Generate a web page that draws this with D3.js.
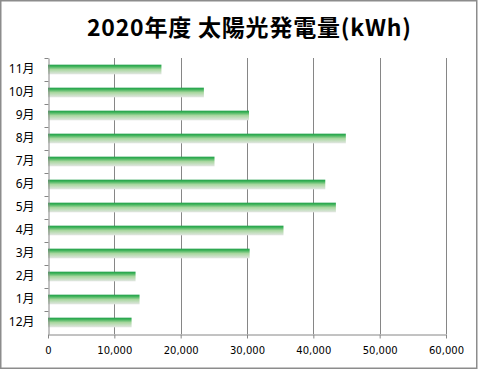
<!DOCTYPE html>
<html>
<head>
<meta charset="utf-8">
<script src="https://cdn.jsdelivr.net/npm/d3@7"></script>
<style>
  body { margin: 0; background: #fff; }
  svg { display: block; }
</style>
</head>
<body>
<svg id="chart"></svg>
<script>
// 月別の発電量 (上から 11月 ... 12月)
const months = ["11月", "10月", "9月", "8月", "7月", "6月", "5月", "4月", "3月", "2月", "1月", "12月"];
const kwh = [17100, 23500, 30300, 44900, 25100, 41800, 43400, 35500, 30400, 13200, 13800, 12600];
const xTicks = [0, 10000, 20000, 30000, 40000, 50000, 60000];
const title = "2020年度 太陽光発電量(kWh)";

const data = months.map((m, i) => ({month: m, value: kwh[i]}));

const W = 480, H = 371;
const margin = {top: 58, right: 34, bottom: 37, left: 48};

const svg = d3.select("#chart")
    .attr("width", W)
    .attr("height", H);

// outer frame
svg.append("rect")
    .attr("x", 0.75)
    .attr("y", 0.75)
    .attr("width", 476)
    .attr("height", 367.5)
    .attr("fill", "#fff")
    .attr("stroke", "#8c8c8c")
    .attr("stroke-width", 1.5);

const x = d3.scaleLinear()
    .domain([0, 60000])
    .range([margin.left, W - margin.right]);

const y = d3.scaleBand()
    .domain(months)
    .range([margin.top, H - margin.bottom])
    .paddingInner(0.58)
    .paddingOuter(0.29);

// gradient for bars
const grad = svg.append("defs").append("linearGradient")
    .attr("id", "barGrad")
    .attr("x1", 0).attr("y1", 0)
    .attr("x2", 0).attr("y2", 1);
[["0%", "#1e9e48"], ["18%", "#3fb35a"], ["50%", "#a8d79f"], ["100%", "#e3e6e3"]]
    .forEach(s => grad.append("stop").attr("offset", s[0]).attr("stop-color", s[1]));

// vertical gridlines
svg.append("g")
    .selectAll("line")
    .data(xTicks.slice(1))
    .enter()
    .append("line")
    .attr("x1", d => Math.round(x(d)) + 0.5)
    .attr("x2", d => Math.round(x(d)) + 0.5)
    .attr("y1", margin.top)
    .attr("y2", H - margin.bottom)
    .attr("stroke", "#868686");

// bars
svg.append("g")
    .selectAll("rect")
    .data(data)
    .enter()
    .append("rect")
    .attr("x", x(0))
    .attr("y", d => y(d.month))
    .attr("width", d => x(d.value) - x(0))
    .attr("height", y.bandwidth())
    .attr("fill", "url(#barGrad)");

// x axis
const xAxis = svg.append("g")
    .attr("transform", `translate(0,${H - margin.bottom + 0.5})`)
    .call(d3.axisBottom(x)
        .tickValues(xTicks)
        .tickFormat(d3.format(","))
        .tickSize(4)
        .tickSizeOuter(0));
xAxis.select(".domain").attr("stroke", "#868686");
xAxis.selectAll(".tick line").attr("stroke", "#868686");
xAxis.selectAll("text")
    .attr("y", 12)
    .attr("fill", "#000")
    .style("font-family", "'DejaVu Sans', sans-serif")
    .style("font-size", "10px");

// y axis: labels centred on bars, ticks on category boundaries
const yAxis = svg.append("g")
    .attr("transform", `translate(${x(0) + 0.5},0)`)
    .call(d3.axisLeft(y).tickSize(0).tickPadding(14));
yAxis.select(".domain").attr("stroke", "#868686");
yAxis.selectAll("text")
    .attr("fill", "#000")
    .style("font-family", "'Noto Sans', 'Noto Sans CJK JP', sans-serif")
    .style("font-size", "12px");

const bounds = months.map(m => y(m) - y.step() * y.paddingInner() / 2);
yAxis.selectAll(".bound")
    .data(bounds)
    .enter()
    .append("line")
    .attr("class", "bound")
    .attr("x1", -4)
    .attr("x2", 0)
    .attr("y1", d => Math.round(d) + 0.5)
    .attr("y2", d => Math.round(d) + 0.5)
    .attr("stroke", "#868686");

// title
svg.append("text")
    .attr("x", 249)
    .attr("y", 36)
    .attr("text-anchor", "middle")
    .attr("textLength", 324)
    .attr("lengthAdjust", "spacing")
    .style("font-family", "'Noto Sans CJK JP', sans-serif")
    .style("font-weight", "bold")
    .style("font-size", "23px")
    .text(title);
</script>
</body>
</html>
